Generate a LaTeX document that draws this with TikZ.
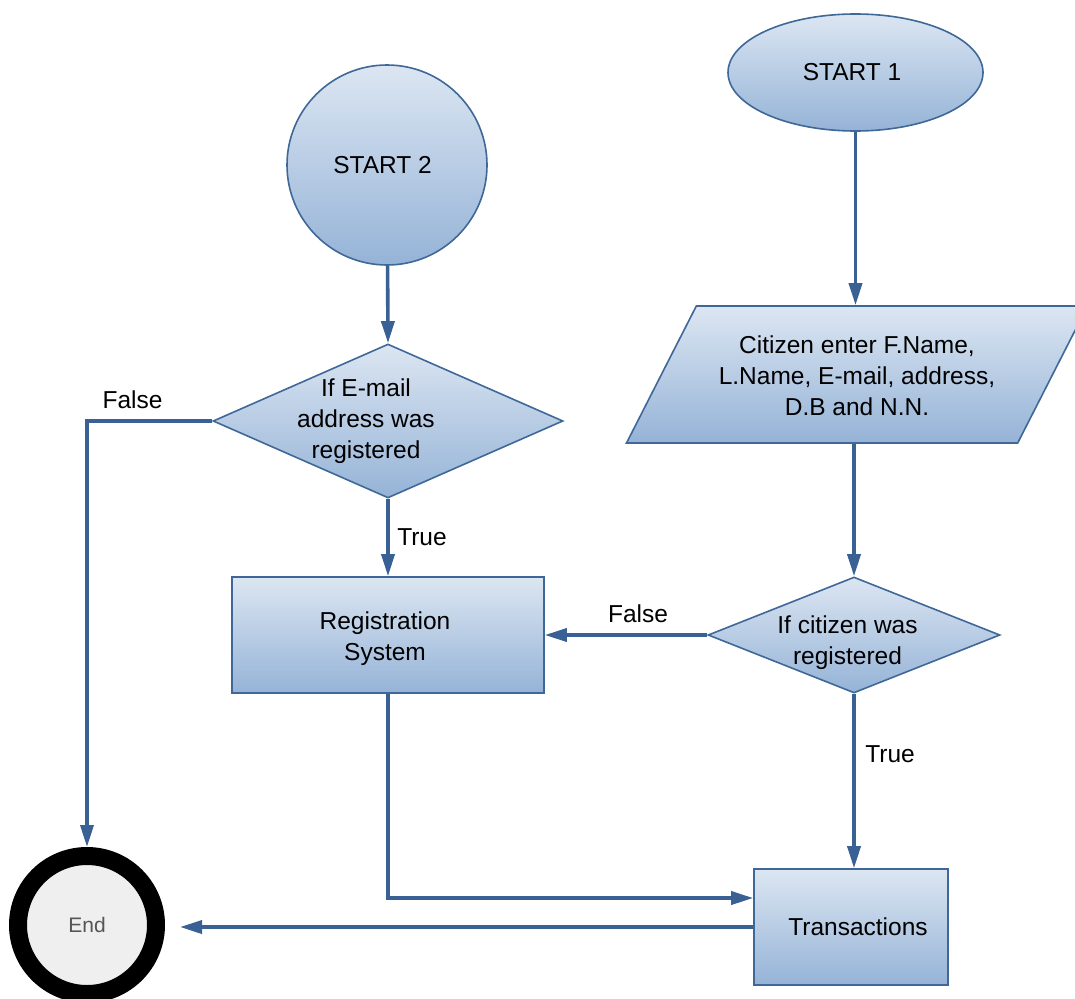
\documentclass[tikz,border=0pt]{standalone}
\usepackage{fontspec}
\setmainfont{Liberation Sans}
\usetikzlibrary{shapes.geometric,arrows.meta}
\definecolor{edgeblue}{HTML}{3F6898}
\definecolor{linkblue}{HTML}{3A6193}
\definecolor{shadetop}{HTML}{DCE6F2}
\definecolor{shadebot}{HTML}{95B3D7}
\definecolor{endfill}{HTML}{EFEFEF}
\definecolor{endtext}{HTML}{555555}
% centred block of lines
\newcommand{\mlines}[1]{\begin{tabular}{@{}c@{}}#1\end{tabular}}
% lower a text block inside its node by #1
\newcommand{\lowered}[2]{\raisebox{0pt}[\dimexpr\height+#1+#1\relax][\depth]{#2}}
\begin{document}
\begin{tikzpicture}[x=1pt,y=1pt,
  every node/.style={font=\fontsize{24.5}{31}\selectfont, inner sep=0pt},
  box/.style={draw=edgeblue, line width=1.6pt, top color=shadetop, bottom color=shadebot},
  link/.style={draw=linkblue, line width=3.6pt, -{Triangle[length=22pt,width=13pt]}},
  tag/.style={text=black}]
\useasboundingbox (0,0) rectangle (1075,-998);
\clip (0,0) rectangle (1075,-998);
\fill[white] (0,0) rectangle (1075,-998);

% start points
\node[box, ellipse, minimum width=255pt, minimum height=117pt] (s1) at (855.5,-72.5) {\kern-7pt START 1};
\node[box, circle, minimum size=200pt] (s2) at (387,-165) {\kern-9pt START 2};

% input of citizen data
\node[box, trapezium, trapezium left angle=63, trapezium right angle=117,
      trapezium stretches body, inner xsep=0pt, inner ysep=18pt, minimum width=461pt] (inp) at (857,-374.5)
  {\lowered{4pt}{\mlines{Citizen enter F.Name,\\L.Name, E-mail, address,\\D.B and N.N.}}};

% decisions
\node[box, diamond, aspect=2.27, minimum width=350pt, minimum height=154pt] (d1) at (388,-421)
  {\kern-44pt\mlines{If E-mail\\address was\\registered}};
\node[box, diamond, aspect=2.52, minimum width=292pt, minimum height=116pt] (d2) at (854,-635)
  {\kern-13pt\smash{\raisebox{-14pt}{\mlines{If citizen was\\registered}}}};

% processes
\node[box, rectangle, minimum width=312pt, minimum height=116pt] (reg) at (388,-635)
  {\kern-6pt\lowered{4pt}{\mlines{Registration\\System}}};
\node[box, rectangle, minimum width=194pt, minimum height=116pt] (tr) at (851,-927)
  {\kern14pt Transactions};

% end point
\node[circle, draw=black, line width=18pt, fill=endfill, minimum size=138pt,
      font=\fontsize{21}{25}\selectfont, text=endtext] (endc) at (87,-925) {End};

% connectors
\draw[link] (s1) -- (s1 |- inp.north);
\draw[link] (d2.north |- inp.south) -- (d2.north);
\draw[link] (s2) -- (d1.north);
\draw[link] (d1) -- (reg);
\draw[link] (d1.west) -| (endc.north);
\draw[link] (d2) -- (reg);
\draw[link] (d2.south) -- (d2.south |- tr.north);
\draw[link] (reg.south) |- ([yshift=29pt]tr.west);
\draw[link, shorten >=15pt] (tr.west) -- (endc.east |- tr.west);

% branch labels
\node[tag] (f1) at (132.5,-400) {False};
\node[tag] (t1) at (422,-537) {True};
\node[tag] (f2) at (638,-614) {False};
\node[tag] (t2) at (890,-754) {True};
\end{tikzpicture}
\end{document}
